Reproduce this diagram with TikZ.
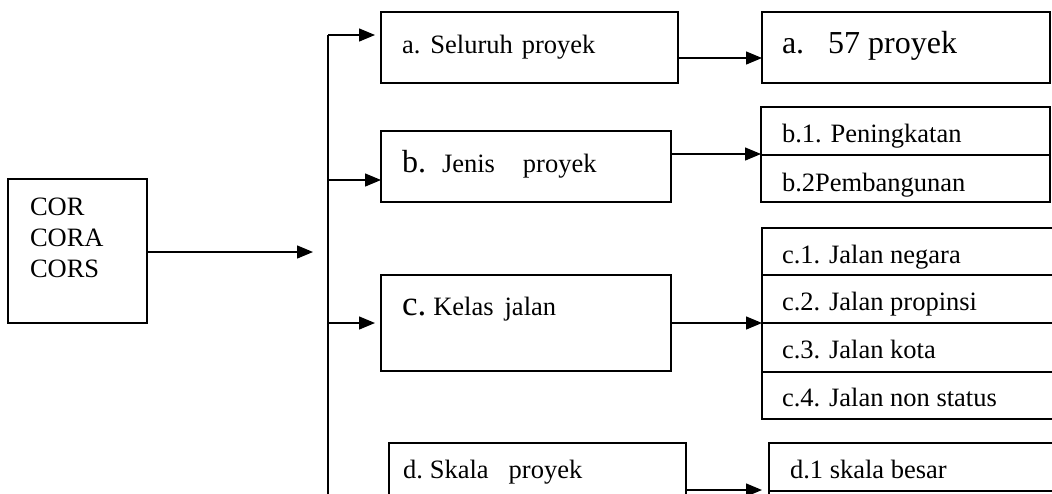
\documentclass[tikz,border=0pt]{standalone}
\usepackage{fontspec}
\setmainfont{Liberation Serif}
\usetikzlibrary{arrows.meta}
\begin{document}
\begin{tikzpicture}[x=1pt,y=-1pt,
  bx/.style={draw, line width=1.4pt, inner sep=0pt, outer sep=0pt, anchor=north west, fill=white},
  tx/.style={inner sep=0pt, outer sep=0pt, anchor=base west, font=\fontsize{26.5}{30}\selectfont},
  big/.style={font=\fontsize{32}{36}\selectfont},
  arr/.style={line width=1.4pt, -{Triangle[length=16pt,width=13pt]}},
  ln/.style={line width=1.4pt}]
\useasboundingbox (0,0) rectangle (1052,493);
\fill[white] (0,0) rectangle (1052,493);
% source box
\node[bx, minimum width=139pt, minimum height=144pt] (cor) at (8,179) {};
\node[tx] (tcor1) at (30,215) {COR};
\node[tx] (tcor2) at (30,246) {CORA};
\node[tx] (tcor3) at (30,277) {CORS};
% middle boxes
\node[bx, minimum width=297pt, minimum height=71pt] (boxa) at (381,12) {};
\node[tx] (ta) at (402,53) {a.\hspace{10pt}Seluruh\hspace{9pt}proyek};
\node[bx, minimum width=290pt, minimum height=71pt] (boxb) at (381,131) {};
\node[tx] (tb) at (402,172) {{\fontsize{32}{36}\selectfont b.}\hspace{16pt}Jenis\hspace{28pt}proyek};
\node[bx, minimum width=290pt, minimum height=96pt] (boxc) at (381,275) {};
\node[tx] (tc) at (402,315) {{\fontsize{35}{38}\selectfont c.}\hspace{7pt}Kelas\hspace{11pt}jalan};
\node[bx, minimum width=297pt, minimum height=70pt] (boxd) at (389,443) {};
\node[tx] (td) at (403,478) {d.\hspace{7pt}Skala\hspace{20pt}proyek};
% right boxes
\node[bx, minimum width=288pt, minimum height=71pt] (box57) at (762,12) {};
\node[tx, big] (t57) at (782,53) {a.\hspace{24pt}57 proyek};
\node[bx, minimum width=289pt, minimum height=48pt] (b1) at (761,107) {};
\node[tx] (tb1) at (782,142) {b.1. Peningkatan};
\node[bx, minimum width=289pt, minimum height=47pt] (b2) at (761,155) {};
\node[tx] (tb2) at (782,191) {b.2Pembangunan};
\node[bx, minimum width=300pt, minimum height=47pt] (c1) at (762,228) {};
\node[tx] (tc1) at (782,263) {c.1. Jalan negara};
\node[bx, minimum width=300pt, minimum height=48pt] (c2) at (762,275) {};
\node[tx] (tc2) at (782,310) {c.2. Jalan propinsi};
\node[bx, minimum width=300pt, minimum height=49pt] (c3) at (762,323) {};
\node[tx] (tc3) at (782,358) {c.3. Jalan kota};
\node[bx, minimum width=300pt, minimum height=47pt] (c4) at (762,372) {};
\node[tx] (tc4) at (782,406) {c.4. Jalan non status};
\node[bx, minimum width=300pt, minimum height=48pt] (d1) at (769,443) {};
\node[tx] (td1) at (790,478) {d.1 skala besar};
\node[bx, minimum width=300pt, minimum height=20pt] (d2) at (769,491) {};
% connectors
\coordinate (vtop) at (328,35);
\coordinate (vbot) at (328,500);
\coordinate (jb) at (328,180);
\coordinate (jc) at (328,323);
\coordinate (hub) at (313,252);
\draw[ln] (vtop) -- (vbot);
\draw[arr] (cor.east |- hub) -- (hub);
\draw[arr, shorten >=6pt] (vtop) -- (boxa.west |- vtop);
\draw[arr] (jb) -- (boxb.west |- jb);
\draw[arr, shorten >=6pt] (jc) -- (boxc.west |- jc);
\draw[arr] (boxa.east |- 0,58) -- (box57.west |- 0,58);
\draw[arr] (boxb.east |- 0,154) -- (b1.west |- 0,154);
\draw[arr] (boxc.east |- jc) -- (c3.west |- jc);
\draw[arr, shorten >=7pt] (boxd.east |- 0,490) -- (d1.west |- 0,490);
\end{tikzpicture}
\end{document}
